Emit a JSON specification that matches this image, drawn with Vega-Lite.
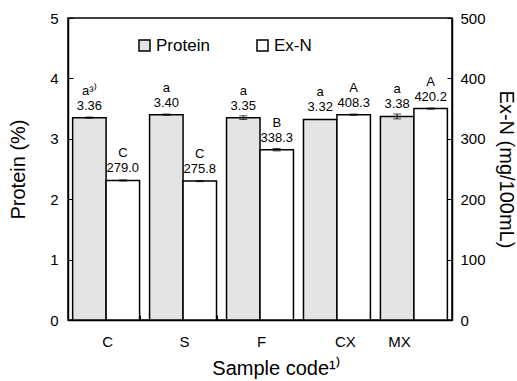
{
  "$schema": "https://vega.github.io/schema/vega-lite/v6.json",
  "width": 384,
  "height": 302,
  "autosize": {"type": "none"},
  "padding": {"left": 68, "top": 18, "right": 65, "bottom": 61},
  "config": {
    "font": "Liberation Sans",
    "view": {"stroke": "black", "strokeWidth": 1.5},
    "axis": {"grid": false, "domainColor": "black", "domainWidth": 1.5, "tickColor": "black", "labelColor": "black", "titleColor": "black", "labelFontSize": 15, "titleFontSize": 20, "titleFontWeight": "normal", "labelFont": "Liberation Sans", "titleFont": "Liberation Sans"},
    "text": {"font": "Liberation Sans"}
  },
  "datasets": {
    "bars": [
      {"code": "C", "series": "Protein", "value": 3.35, "err": 0.01, "label": "a³⁾\n3.36"},
      {"code": "S", "series": "Protein", "value": 3.40, "err": 0.01, "label": "a\n3.40"},
      {"code": "F", "series": "Protein", "value": 3.35, "err": 0.03, "label": "a\n3.35"},
      {"code": "CX", "series": "Protein", "value": 3.32, "err": 0.0, "label": "a\n3.32"},
      {"code": "MX", "series": "Protein", "value": 3.37, "err": 0.04, "label": "a\n3.38"},
      {"code": "C", "series": "Ex-N", "value": 231, "err": 1, "label": "C\n279.0"},
      {"code": "S", "series": "Ex-N", "value": 230, "err": 1, "label": "C\n275.8"},
      {"code": "F", "series": "Ex-N", "value": 282, "err": 2, "label": "B\n338.3"},
      {"code": "CX", "series": "Ex-N", "value": 340, "err": 1, "label": "A\n408.3"},
      {"code": "MX", "series": "Ex-N", "value": 350, "err": 1, "label": "A\n420.2"}
    ]
  },
  "data": {"name": "bars"},
  "encoding": {
    "x": {
      "field": "code", "type": "nominal", "sort": ["C", "S", "F", "CX", "MX"],
      "scale": {"paddingInner": 0.13, "paddingOuter": 0.06},
      "axis": {
        "title": "Sample code¹⁾", "labelAngle": 0, "tickBand": "extent", "tickSize": -5, "labelPadding": 19,
        "titlePadding": 9, "titleX": 208, "titleAlign": "center",
        "labelOffset": {"condition": [{"test": "datum.value === 'CX'", "value": 8}, {"test": "datum.value === 'MX'", "value": -15}], "value": 1}
      }
    },
    "xOffset": {"field": "series", "type": "nominal", "sort": ["Protein", "Ex-N"], "scale": {"domain": ["Protein", "Ex-N"], "paddingInner": 0}}
  },
  "layer": [
    {
      "transform": [{"filter": "datum.series === 'Protein'"}],
      "encoding": {
        "y": {"field": "value", "type": "quantitative", "scale": {"domain": [0, 5]},
          "axis": {"title": "Protein (%)", "orient": "left", "values": [0, 1, 2, 3, 4, 5], "tickSize": -5, "labelPadding": 15, "titlePadding": 21}}
      },
      "layer": [
        {"mark": {"type": "bar", "stroke": "black", "strokeWidth": 1.5},
          "encoding": {"fill": {"field": "series", "type": "nominal",
            "scale": {"domain": ["Protein", "Ex-N"], "range": ["#e4e4e4", "white"]},
            "legend": {"title": null, "orient": "none", "legendX": 68, "legendY": 19, "direction": "horizontal", "symbolType": "square", "symbolSize": 121, "symbolStrokeColor": "black", "symbolStrokeWidth": 1.5, "labelFontSize": 17, "labelFont": "Liberation Sans", "labelColor": "black", "labelOffset": 3, "columnPadding": 44}}}},
        {"mark": {"type": "errorbar", "ticks": {"size": 8, "color": "black"}, "rule": {"color": "black"}},
          "encoding": {"yError": {"field": "err"}}},
        {"mark": {"type": "text", "baseline": "bottom", "dy": -20, "fontSize": 13, "lineBreak": "\n", "lineHeight": 15, "color": "black"},
          "encoding": {"text": {"field": "label"}}}
      ]
    },
    {
      "transform": [{"filter": "datum.series === 'Ex-N'"}],
      "encoding": {
        "y": {"field": "value", "type": "quantitative", "scale": {"domain": [0, 500]},
          "axis": {"title": "Ex-N (mg/100mL)", "orient": "right", "values": [0, 100, 200, 300, 400, 500], "tickSize": -5, "labelPadding": 13, "titlePadding": 10}}
      },
      "layer": [
        {"mark": {"type": "bar", "stroke": "black", "strokeWidth": 1.5},
          "encoding": {"fill": {"field": "series", "type": "nominal"}}},
        {"mark": {"type": "errorbar", "ticks": {"size": 8, "color": "black"}, "rule": {"color": "black"}},
          "encoding": {"yError": {"field": "err"}}},
        {"mark": {"type": "text", "baseline": "bottom", "dy": -20, "fontSize": 13, "lineBreak": "\n", "lineHeight": 15, "color": "black"},
          "encoding": {"text": {"field": "label"}}}
      ]
    }
  ],
  "resolve": {"scale": {"y": "independent"}}
}
